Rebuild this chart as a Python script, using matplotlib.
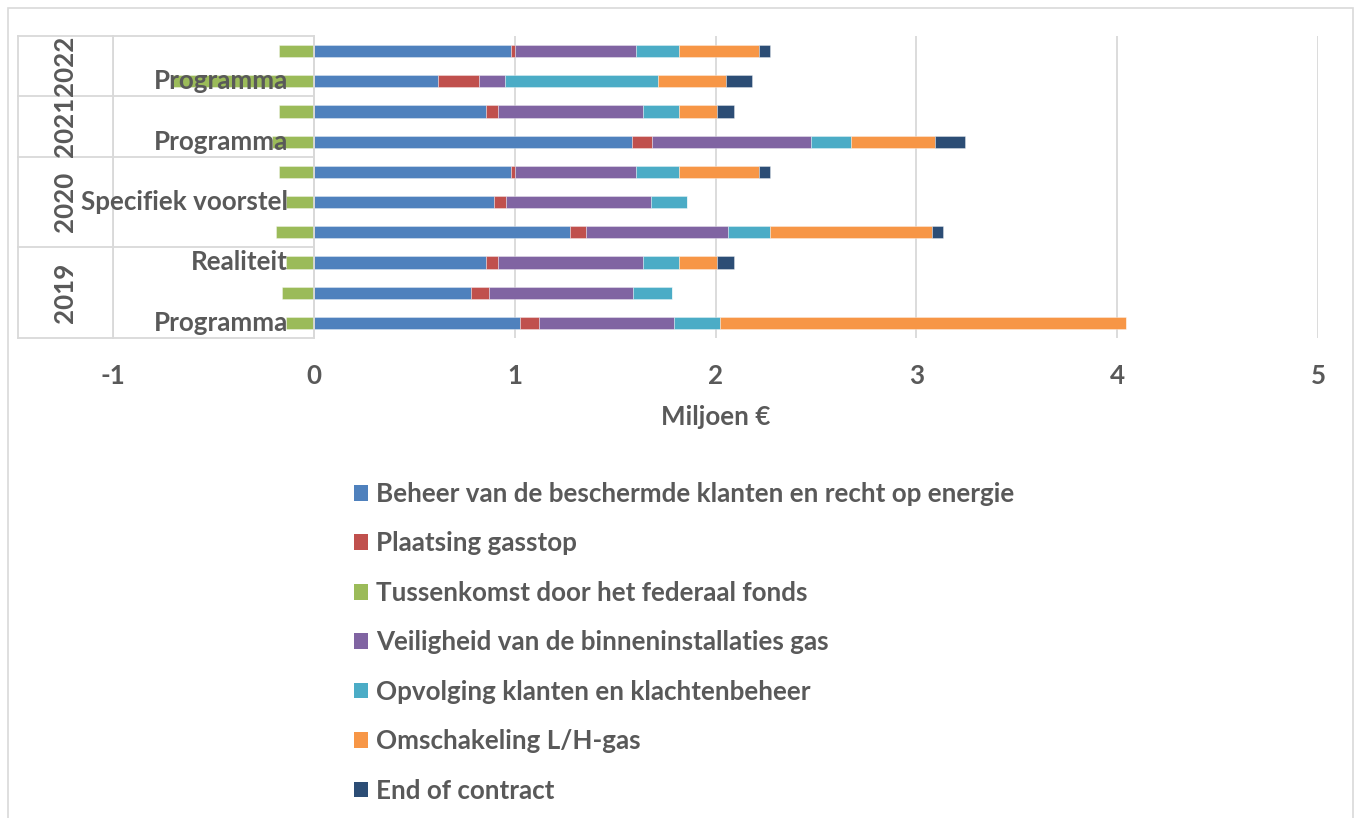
import numpy as np
import matplotlib
matplotlib.use("Agg")
import matplotlib.pyplot as plt
from matplotlib.patches import Patch, Rectangle

plt.rcParams['font.family'] = ['Lato', 'DejaVu Sans']
plt.rcParams['font.weight'] = 'bold'
plt.rcParams['axes.unicode_minus'] = False

# categories, bottom to top
years = ["2019", "2020", "2021", "2022"]
year_sizes = [3, 3, 2, 2]
sub_labels = ["Programma", "", "Realiteit",
              "", "Specifiek voorstel", "",
              "Programma", "",
              "Programma", ""]

# series values (Miljoen €), bottom to top
beheer = [1.029, 0.783, 0.857, 1.275, 0.898, 0.980, 1.585, 0.857, 0.619, 0.980]
gasstop = [0.093, 0.090, 0.062, 0.078, 0.057, 0.022, 0.100, 0.062, 0.203, 0.022]
tussenkomst = [-0.14, -0.16, -0.14, -0.19, -0.14, -0.175, -0.21, -0.175, -0.71, -0.175]
veiligheid = [0.672, 0.714, 0.718, 0.709, 0.725, 0.600, 0.790, 0.718, 0.128, 0.600]
opvolging = [0.228, 0.196, 0.182, 0.209, 0.178, 0.215, 0.200, 0.182, 0.762, 0.215]
omschakeling = [2.020, 0.0, 0.190, 0.808, 0.0, 0.400, 0.420, 0.190, 0.340, 0.400]
end_contract = [0.0, 0.0, 0.083, 0.052, 0.0, 0.055, 0.145, 0.083, 0.128, 0.055]

series = [
    ("Beheer van de beschermde klanten en recht op energie", beheer, "#4F81BD"),
    ("Plaatsing gasstop", gasstop, "#C0504D"),
    ("Tussenkomst door het federaal fonds", tussenkomst, "#9BBB59"),
    ("Veiligheid van de binneninstallaties gas", veiligheid, "#8064A2"),
    ("Opvolging klanten en klachtenbeheer", opvolging, "#4BACC6"),
    ("Omschakeling L/H-gas", omschakeling, "#F79646"),
    ("End of contract", end_contract, "#2C4D75"),
]

txt = "#595959"
grid = "#D9D9D9"
fs = 18.7

W, H = 1356, 818
fig = plt.figure(figsize=(W / 100, H / 100), dpi=100)
ax = fig.add_axes([113 / W, 1 - 338 / H, 1205 / W, 302 / H])

y = np.arange(len(sub_labels))
pos_left = np.zeros(len(y))
neg_left = np.zeros(len(y))
for name, vals, col in series:
    v = np.array(vals)
    left = np.where(v >= 0, pos_left, neg_left)
    ax.barh(y, v, left=left, height=0.4, color=col,
            edgecolor=(1, 1, 1, 0.4), linewidth=0.6, zorder=3)
    pos_left += np.where(v >= 0, v, 0)
    neg_left += np.where(v < 0, v, 0)

ax.set_xlim(-1, 5)
ax.set_ylim(-0.5, len(y) - 0.5)
ax.set_xticks(range(-1, 6))
ax.set_yticks([])
ax.grid(axis='x', color=grid, linewidth=1.3, zorder=0)
for s in ax.spines.values():
    s.set_visible(False)
ax.tick_params(axis='x', length=0, pad=19, labelsize=fs, labelcolor=txt)

# category axis at 0 and the multi-level label box
x_box = -1.473
ax.plot([0, 0], [-0.5, len(y) - 0.5], color=grid, lw=1.3, zorder=4, clip_on=False)
ax.plot([x_box, x_box], [-0.5, len(y) - 0.5], color=grid, lw=1.3, clip_on=False)
ax.plot([-1, -1], [-0.5, len(y) - 0.5], color=grid, lw=1.3, clip_on=False)
bounds = np.concatenate([[0], np.cumsum(year_sizes)]) - 0.5
for b in bounds:
    ax.plot([x_box, 0], [b, b], color=grid, lw=1.3, clip_on=False)
for yr, lo, hi in zip(years, bounds[:-1], bounds[1:]):
    ax.text(-1.24, (lo + hi) / 2, yr, rotation=90, ha='center', va='center',
            fontsize=fs, color=txt, clip_on=False)
for yi, lab in zip(y, sub_labels):
    ax.text(-0.13, yi, lab, ha='right', va='center', fontsize=fs, color=txt,
            zorder=6, clip_on=False)

fig.text(715.5 / W, 1 - 417 / H, "Miljoen €", ha='center', va='center',
         fontsize=fs, color=txt)

handles = [Patch(facecolor=c, edgecolor='none') for _, _, c in series]
fig.legend(handles, [n for n, _, _ in series], loc='upper left',
           bbox_to_anchor=(341 / W, 1 - 469 / H), frameon=False, fontsize=fs,
           handlelength=0.55, handleheight=0.55, handletextpad=0.3,
           labelspacing=0.98, borderpad=0, labelcolor=txt)

fig.patches.append(Rectangle((8 / W, -0.01), 1345 / W, 1 - 8 / H + 0.01,
                             transform=fig.transFigure, fill=False,
                             edgecolor=grid, linewidth=1.2))

fig.savefig("out.png", dpi=100)
